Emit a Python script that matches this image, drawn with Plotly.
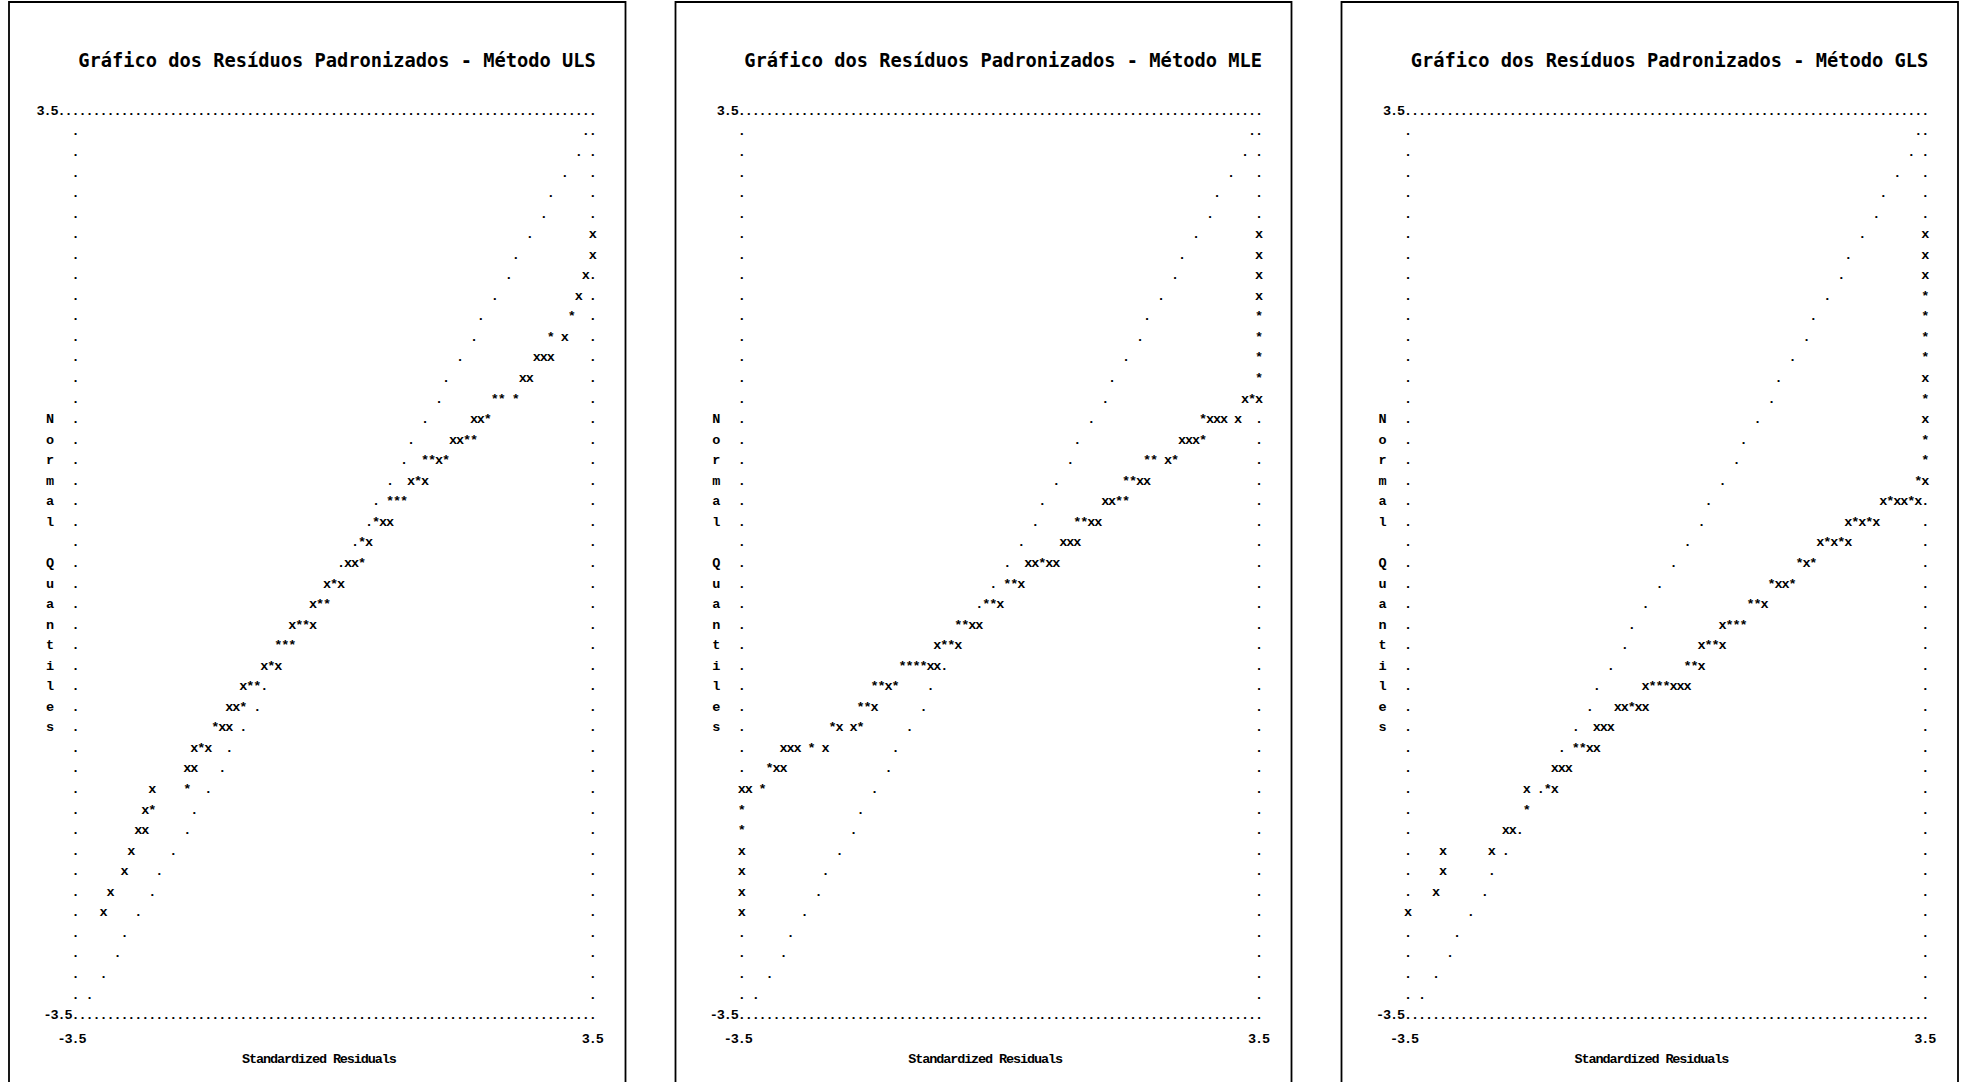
import plotly.graph_objects as go

# ---------------- data (LISREL-style character Q-plots) ----------------
METHODS = ["ULS", "MLE", "GLS"]
TITLE_PREFIX = "Gráfico dos Resíduos Padronizados - Método "
Y_LABEL = "Normal Quantiles"          # written one letter per row
X_LABEL = "Standardized Residuals"
Y_TICK_TOP = "3.5"
Y_TICK_BOTTOM = "-3.5"
X_TICK_LEFT = "-3.5"
X_TICK_RIGHT = "3.5"

LAST_ROW = 44      # rows 0..44  (0 = +3.5, 44 = -3.5)
LAST_COL = 74      # cols 0..74  (0 = -3.5, 74 = +3.5)

# column of the reference line (dots) for rows 1..43
REF_LINE = [73, 72, 70, 68, 67, 65, 63, 62, 60, 58, 57, 55, 53, 52, 50, 48, 47, 45,
            43, 42, 40, 38, 36, 34, 32, 31, 29, 27, 26, 24, 22, 21, 19, 17, 16, 14,
            12, 11, 9, 7, 6, 4, 2]

# plotted residuals: (row, first column, characters)
ULS_POINTS = [
    (6, 74, "x"), (7, 74, "x"), (8, 73, "x"), (9, 72, "x"), (10, 71, "*"),
    (11, 68, "*"), (11, 70, "x"), (12, 66, "xxx"), (13, 64, "xx"),
    (14, 60, "**"), (14, 63, "*"), (15, 57, "xx*"), (16, 54, "xx**"),
    (17, 50, "**x*"), (18, 48, "x*x"), (19, 45, "***"), (20, 43, "*xx"),
    (21, 41, "*x"), (22, 39, "xx*"), (23, 36, "x*x"), (24, 34, "x**"),
    (25, 31, "x**x"), (26, 29, "***"), (27, 27, "x*x"), (28, 24, "x**"),
    (29, 22, "xx*"), (30, 20, "*xx"), (31, 17, "x*x"), (32, 16, "xx"),
    (33, 11, "x"), (33, 16, "*"), (34, 10, "x*"), (35, 9, "xx"), (36, 8, "x"),
    (37, 7, "x"), (38, 5, "x"), (39, 4, "x"),
]
MLE_POINTS = [
    (6, 74, "x"), (7, 74, "x"), (8, 74, "x"), (9, 74, "x"), (10, 74, "*"),
    (11, 74, "*"), (12, 74, "*"), (13, 74, "*"), (14, 72, "x*x"),
    (15, 66, "*xxx"), (15, 71, "x"), (16, 63, "xxx*"), (17, 58, "**"),
    (17, 61, "x*"), (18, 55, "**xx"), (19, 52, "xx**"), (20, 48, "**xx"),
    (21, 46, "xxx"), (22, 41, "xx*xx"), (23, 38, "**x"), (24, 35, "**x"),
    (25, 31, "**xx"), (26, 28, "x**x"), (27, 23, "****xx"), (28, 19, "**x*"),
    (29, 17, "**x"), (30, 13, "*x"), (30, 16, "x*"), (31, 6, "xxx"),
    (31, 10, "*"), (31, 12, "x"), (32, 4, "*xx"), (33, 0, "xx"), (33, 3, "*"),
    (34, 0, "*"), (35, 0, "*"), (36, 0, "x"), (37, 0, "x"), (38, 0, "x"),
    (39, 0, "x"),
]
GLS_POINTS = [
    (6, 74, "x"), (7, 74, "x"), (8, 74, "x"), (9, 74, "*"), (10, 74, "*"),
    (11, 74, "*"), (12, 74, "*"), (13, 74, "x"), (14, 74, "*"), (15, 74, "x"),
    (16, 74, "*"), (17, 74, "*"), (18, 73, "*x"), (19, 68, "x*xx*x"),
    (20, 63, "x*x*x"), (21, 59, "x*x*x"), (22, 56, "*x*"), (23, 52, "*xx*"),
    (24, 49, "**x"), (25, 45, "x***"), (26, 42, "x**x"), (27, 40, "**x"),
    (28, 34, "x***xxx"), (29, 30, "xx*xx"), (30, 27, "xxx"), (31, 24, "**xx"),
    (32, 21, "xxx"), (33, 17, "x"), (33, 20, "*x"), (34, 17, "*"),
    (35, 14, "xx"), (36, 5, "x"), (36, 12, "x"), (37, 5, "x"), (38, 4, "x"),
    (39, 0, "x"),
]
PANEL_POINTS = [ULS_POINTS, MLE_POINTS, GLS_POINTS]
TOP_TICK_START = [-5, -3, -3]   # column where the "3.5" of the top line starts

# ---------------- layout constants (pixels) ----------------
W, H = 1962, 1082
COL0_PX = [75.5, 741.7, 1408.0]      # pixel x of column 0 in each panel
CW = 6.99                           # character width
ROW0_PX = 111.5                     # pixel y of row 0
RH = 20.55                          # row height
BOX_X = [(9, 625.5), (675.5, 1291.5), (1341.5, 1958)]
YLABEL_COL = -3.65

FONT = "Liberation Mono, Courier New, monospace"
TITLE_FONT = "DejaVu Sans Mono, Liberation Mono, monospace"
CHAR_SIZE = 13.5
TITLE_SIZE = 18.7

fig = go.Figure()

for p, method in enumerate(METHODS):
    grid = {}
    # top frame line with its label
    start = TOP_TICK_START[p]
    for i, ch in enumerate(Y_TICK_TOP):
        grid[(0, start + i)] = ch
    for c in range(start + len(Y_TICK_TOP), LAST_COL + 1):
        grid[(0, c)] = "."
    # side frames and reference line
    for r in range(1, LAST_ROW):
        grid[(r, 0)] = "."
        grid[(r, LAST_COL)] = "."
        grid[(r, REF_LINE[r - 1])] = "."
    # bottom frame line with its label
    for i, ch in enumerate(Y_TICK_BOTTOM):
        grid[(LAST_ROW, -len(Y_TICK_BOTTOM) + i)] = ch
    for c in range(0, LAST_COL + 1):
        grid[(LAST_ROW, c)] = "."
    # vertical axis title, one letter per row
    for i, ch in enumerate(Y_LABEL):
        if ch != " ":
            grid[(15 + i, YLABEL_COL)] = ch
    # residual points
    for row, col, txt in PANEL_POINTS[p]:
        for i, ch in enumerate(txt):
            grid[(row, col + i)] = ch

    xs = [k[1] for k in grid]
    ys = [k[0] for k in grid]
    ts = [grid[k] for k in grid]

    # x tick labels and x title (below the frame)
    for i, ch in enumerate(X_TICK_LEFT):
        xs.append(-2 + i); ys.append(45.15); ts.append(ch)
    for i, ch in enumerate(X_TICK_RIGHT):
        xs.append(LAST_COL - 1 + i); ys.append(45.15); ts.append(ch)
    for i, ch in enumerate(X_LABEL):
        if ch != " ":
            xs.append(24.4 + i); ys.append(46.15); ts.append(ch)

    axname = "x" if p == 0 else f"x{p + 1}"
    fig.add_trace(go.Scatter(
        x=xs, y=ys, text=ts, mode="text", xaxis=axname, yaxis="y",
        textposition="middle center", cliponaxis=False, hoverinfo="skip",
        textfont=dict(family=FONT, size=CHAR_SIZE, color="black", weight="bold"),
        showlegend=False))
    # panel title
    fig.add_trace(go.Scatter(
        x=[37.4], y=[-2.37], text=[TITLE_PREFIX + method], mode="text",
        xaxis=axname, yaxis="y", textposition="middle center", cliponaxis=False,
        hoverinfo="skip",
        textfont=dict(family=TITLE_FONT, size=TITLE_SIZE, color="black", weight="bold"),
        showlegend=False))

    # panel frame
    x0, x1 = BOX_X[p]
    fig.add_shape(type="rect", xref="paper", yref="paper",
                  x0=x0 / W, x1=x1 / W, y0=-0.05, y1=1 - 2.0 / H,
                  line=dict(color="black", width=1.8), fillcolor="rgba(0,0,0,0)")

r_top = -ROW0_PX / RH
r_bot = r_top + H / RH
axis_common = dict(visible=False, showgrid=False, zeroline=False, domain=[0, 1])
layout_axes = {}
for p in range(3):
    key = "xaxis" if p == 0 else f"xaxis{p + 1}"
    ax = dict(axis_common, range=[-COL0_PX[p] / CW, (W - COL0_PX[p]) / CW], anchor="y")
    if p > 0:
        ax["overlaying"] = "x"
    layout_axes[key] = ax

fig.update_layout(
    width=W, height=H, margin=dict(l=0, r=0, t=0, b=0),
    paper_bgcolor="white", plot_bgcolor="white", showlegend=False,
    yaxis=dict(visible=False, showgrid=False, zeroline=False,
               range=[r_bot, r_top], domain=[0, 1]),
    **layout_axes)

fig.write_html("out.html",
               config={"displayModeBar": False, "staticPlot": True},
               post_script="document.body.style.margin='0px';"
                           "document.body.style.overflow='hidden';")
